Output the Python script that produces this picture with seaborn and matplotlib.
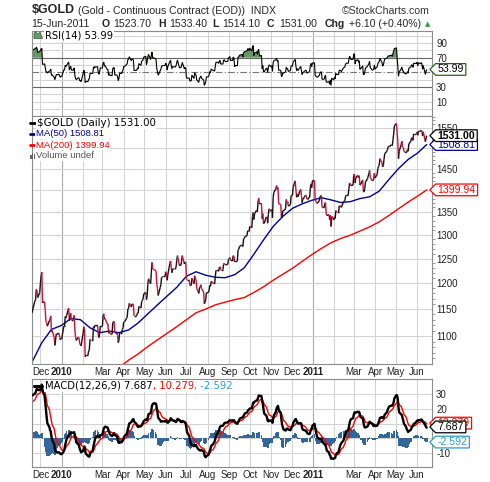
import numpy as np
import pandas as pd
import matplotlib
matplotlib.use('Agg')
import matplotlib.pyplot as plt
import matplotlib.dates as mdates
from matplotlib.collections import LineCollection
from matplotlib.lines import Line2D
from matplotlib.patches import Polygon, Rectangle
from matplotlib.path import Path
from matplotlib.ticker import FixedLocator, NullFormatter
from matplotlib.transforms import blended_transform_factory
import seaborn as sns

# daily closes, one row per month (weekdays, holidays repeat the prior close)
close = [
    1143, 1150, 1166, 1168, 1188, 1185, 1172, 1182,  # Nov 2009 (from the 19th)
    1200, 1215, 1222, 1162, 1164, 1147, 1126, 1125, 1118, 1128, 1130, 1137, 1108, 1110, 1097, 1083,
    1093, 1104, 1104, 1105, 1097, 1093, 1096,  # Dec
    1096, 1118, 1118, 1136, 1133, 1138, 1152, 1128, 1136, 1142, 1130, 1130, 1138, 1111, 1098, 1092,
    1098, 1097, 1086, 1085, 1082,  # Jan 2010
    1105, 1117, 1111, 1063, 1066, 1066, 1073, 1075, 1094, 1093, 1093, 1117, 1114, 1120, 1118, 1120,
    1102, 1097, 1106, 1118,  # Feb
    1118, 1137, 1141, 1131, 1132, 1122, 1122, 1105, 1109, 1104, 1103, 1124, 1126, 1127, 1106, 1106,
    1101, 1088, 1092, 1106, 1106, 1112, 1115,  # Mar
    1126, 1126, 1132, 1135, 1150, 1151, 1161, 1154, 1160, 1160, 1158, 1137, 1137, 1138, 1143, 1142,
    1155, 1152, 1164, 1167, 1169, 1179,  # Apr
    1182, 1168, 1176, 1198, 1209, 1199, 1220, 1242, 1228, 1228, 1226, 1223, 1198, 1189, 1176, 1192,
    1198, 1212, 1212, 1214, 1214,  # May
    1223, 1220, 1206, 1217, 1240, 1245, 1231, 1221, 1229, 1228, 1228, 1233, 1246, 1256, 1235, 1237,
    1236, 1244, 1256, 1239, 1243, 1242,  # Jun
    1209, 1207, 1207, 1196, 1195, 1196, 1210, 1199, 1215, 1210, 1207, 1190, 1180, 1191, 1193, 1197,
    1189, 1183, 1160, 1163, 1168, 1181,  # Jul
    1182, 1187, 1196, 1194, 1204, 1200, 1200, 1199, 1214, 1226, 1226, 1224, 1233, 1233, 1227, 1227,
    1238, 1240, 1238, 1237, 1238, 1248,  # Aug
    1249, 1252, 1247, 1247, 1256, 1255, 1243, 1245, 1245, 1268, 1269, 1275, 1276, 1278, 1275, 1291,
    1292, 1296, 1298, 1309, 1309, 1307,  # Sep
    1318, 1315, 1340, 1349, 1333, 1346, 1354, 1350, 1372, 1381, 1368, 1369, 1335, 1346, 1324, 1325,
    1339, 1339, 1325, 1344, 1357,  # Oct
    1351, 1356, 1337, 1383, 1394, 1403, 1410, 1401, 1405, 1368, 1367, 1337, 1338, 1353, 1352, 1357,
    1378, 1373, 1373, 1363, 1366, 1386,  # Nov
    1388, 1387, 1406, 1421, 1400, 1383, 1390, 1384, 1398, 1401, 1387, 1371, 1378, 1385, 1388, 1387,
    1379, 1379, 1383, 1405, 1414, 1405, 1421,  # Dec
    1422, 1378, 1374, 1371, 1369, 1375, 1383, 1386, 1387, 1360, 1360, 1368, 1371, 1345, 1342, 1344,
    1333, 1343, 1318, 1340, 1332,  # Jan 2011
    1339, 1335, 1353, 1349, 1349, 1364, 1364, 1363, 1360, 1372, 1374, 1375, 1384, 1388, 1388, 1403,
    1416, 1414, 1410, 1411,  # Feb
    1434, 1437, 1416, 1428, 1434, 1428, 1433, 1411, 1413, 1423, 1396, 1395, 1403, 1418, 1426, 1432,
    1437, 1446, 1429, 1421, 1422, 1424, 1439,  # Mar
    1428, 1436, 1450, 1455, 1458, 1474, 1464, 1454, 1458, 1473, 1486, 1492, 1496, 1503, 1505, 1505,
    1508, 1506, 1521, 1535, 1556,  # Apr
    1562, 1541, 1516, 1474, 1492, 1509, 1517, 1502, 1501, 1492, 1488, 1490, 1496, 1492, 1510, 1517,
    1526, 1525, 1519, 1536, 1536, 1536,  # May
    1540, 1532, 1543, 1541, 1545, 1542, 1530, 1541, 1516, 1525, 1531,  # Jun (to the 15th)
]

# moving averages read every 10th session (last point = value in the legend)
ma50 = [1054, 1088, 1112, 1119, 1132, 1130, 1115, 1106, 1109, 1106, 1111, 1124, 1141, 1158,
        1175, 1192, 1214, 1223, 1216, 1212, 1211, 1217, 1231, 1259, 1289, 1318, 1340, 1358,
        1368, 1376, 1382, 1377, 1371, 1373, 1380, 1384, 1397, 1424, 1450, 1472, 1488, 1508.81]
ma200 = [1044, 1057, 1068, 1081, 1093, 1105, 1117, 1130, 1143, 1150, 1158, 1163, 1168, 1172,
         1182, 1193, 1206, 1218, 1230, 1244, 1258, 1271, 1283, 1292, 1299, 1308, 1317, 1328,
         1342, 1357, 1372, 1386, 1399.94]
ma200_first = 90  # session where the 200-day line enters the window

# first readings at the left edge, used to start the indicator recursions
rsi_start = 80.0
macd_start = 29.0
signal_start = 24.0

month_labels = ['Dec', '2010', '', 'Mar', 'Apr', 'May', 'Jun', 'Jul', 'Aug', 'Sep', 'Oct',
                'Nov', 'Dec', '2011', '', 'Mar', 'Apr', 'May', 'Jun']
price_grid = [1100, 1150, 1200, 1250, 1300, 1350, 1400, 1450, 1500, 1550]
price_ticks = [1100, 1150, 1200, 1250, 1300, 1350, 1450, 1550]   # 1400/1500 sit under the tags
rsi_ticks = [90, 70, 30, 10]
macd_grid = [30, 20, 10, 0, -10]
macd_ticks = [30, 20, -10]

# ---------------------------------------------------------------- derived
n = len(close)
px = np.array(close, dtype=float)
dates = pd.bdate_range(end='2011-06-15', periods=n)
ma50_idx = list(range(0, n - 1, 10)) + [n - 1]
ma200_idx = list(range(ma200_first, n - 1, 10)) + [n - 1]

# RSI(14), Wilder smoothing
rsi = np.empty(n)
al = 3.0
ag = al * rsi_start / (100 - rsi_start)
rsi[0] = rsi_start
for i in range(1, n):
    d = px[i] - px[i - 1]
    ag = (ag * 13 + max(d, 0)) / 14
    al = (al * 13 + max(-d, 0)) / 14
    rsi[i] = 100 * ag / (ag + al)

# MACD(12,26,9)
a12, a26, a9 = 2 / 13, 2 / 27, 2 / 10
trend = macd_start / 7.0
e12 = px[0] - trend * (1 - a12) / a12
e26 = px[0] - trend * (1 - a26) / a26
sig = signal_start
macd = np.empty(n)
signal = np.empty(n)
for i in range(n):
    if i > 0:
        e12 += a12 * (px[i] - e12)
        e26 += a26 * (px[i] - e26)
    macd[i] = e12 - e26
    if i > 0:
        sig += a9 * (macd[i] - sig)
    signal[i] = sig
hist = macd - signal

# ---------------------------------------------------------------- figure
sns.set_style('white')
plt.rcParams['font.family'] = ['Liberation Sans', 'DejaVu Sans']
W, H = 490, 482
fig = plt.figure(figsize=(W / 100, H / 100), dpi=100)


def fx(x):
    return x / W


def fy(y):
    return 1 - y / H


def box(x0, y0, x1, y1):
    return [fx(x0), fy(y1), (x1 - x0) / W, (y1 - y0) / H]


ax_rsi = fig.add_axes(box(32, 31, 432, 116))
ax_px = fig.add_axes(box(32, 116, 432, 364))
ax_macd = fig.add_axes(box(32, 379, 432, 467))

month_starts = pd.date_range('2009-12-01', '2011-06-01', freq='MS')
x_lo, x_hi = pd.Timestamp('2009-11-18 18:00'), pd.Timestamp('2011-06-22 16:00')
GRID = '#d3d3d3'


def grid(ax, ylines):
    for m in month_starts:
        ax.axvline(m, color='#a8a8a8' if m.month == 1 else GRID, lw=0.75, zorder=0)
    for v in ylines:
        ax.axhline(v, color=GRID, lw=0.75, zorder=0)


def style(ax, yticks, xlabels):
    for sp in ax.spines.values():
        sp.set_color('#8c8c8c')
        sp.set_linewidth(0.8)
    ax.set_xlim(x_lo, x_hi)
    ax.yaxis.tick_right()
    ax.set_yticks(yticks)
    ax.set_yticklabels([str(t) for t in yticks])
    ax.yaxis.set_minor_formatter(NullFormatter())
    ax.tick_params(axis='y', which='major', length=0, pad=3, labelsize=7, labelcolor='#222222')
    ax.set_xticks(month_starts)
    if xlabels:
        ax.set_xticklabels(month_labels)
        for lab in ax.get_xticklabels():
            if lab.get_text().startswith('20'):
                lab.set_fontweight('bold')
                lab.set_fontsize(7.6)
    else:
        ax.set_xticklabels([])
    ax.tick_params(axis='x', length=0, pad=2.5, labelsize=7, labelcolor='#222222')
    ax.set_xlabel('')
    ax.set_ylabel('')


def tag_shape(x0, y0, width, height, mutation_scale):
    pad = 0.18 * mutation_scale
    x0, x1 = x0 - pad, x0 + width + pad
    y0, y1 = y0 - 0.08 * mutation_scale, y0 + height + 0.08 * mutation_scale
    tip = (y1 - y0) / 2
    verts = [(x0 - tip, (y0 + y1) / 2), (x0, y0), (x1, y0), (x1, y1), (x0, y1), (x0 - tip, (y0 + y1) / 2)]
    return Path(verts, [Path.MOVETO] + [Path.LINETO] * 4 + [Path.CLOSEPOLY])


def tag(ax, value, text, color, edge, bold=False):
    tr = blended_transform_factory(ax.transAxes, ax.transData)
    ax.annotate(text, xy=(1, value), xycoords=tr, xytext=(4.0, 0), textcoords='offset points',
                ha='left', va='center', fontsize=7.6, color=color,
                fontweight='bold' if bold else 'normal', annotation_clip=False, zorder=6,
                bbox=dict(boxstyle=tag_shape, fc='white', ec=edge, lw=0.9))


# ---- RSI panel
grid(ax_rsi, [0, 10, 20, 40, 60, 80, 90, 100])
ax_rsi.fill_between(dates, 70, rsi, where=rsi > 70, interpolate=True, color='#669966', lw=0, zorder=1)
ax_rsi.axhline(70, color='#666666', lw=0.8, zorder=1)
ax_rsi.axhline(30, color='#666666', lw=0.8, zorder=1)
ax_rsi.axhline(50, color='#777777', lw=0.8, ls=(0, (6, 2, 1, 2)), zorder=1)
sns.lineplot(x=dates, y=rsi, ax=ax_rsi, color='black', lw=0.8, zorder=2)
ax_rsi.set_ylim(-9.5, 106.4)
style(ax_rsi, rsi_ticks, False)
tag(ax_rsi, 53.99, '53.99', 'black', '#1e6b1e')

# ---- price panel
ax_px.set_yscale('log')
grid(ax_px, price_grid)
sns.lineplot(x=dates[ma200_idx], y=ma200, ax=ax_px, color='#ff0000', lw=1.0, zorder=2)
sns.lineplot(x=dates[ma50_idx], y=ma50, ax=ax_px, color='#000099', lw=1.0, zorder=2)
xs = mdates.date2num(dates)
pts = np.column_stack([xs, px])
segs = np.stack([pts[:-1], pts[1:]], axis=1)
seg_cols = np.where(np.diff(px) < 0, '#c8103c', '#111111')
ax_px.add_collection(LineCollection(segs, colors=seg_cols, linewidths=1.0, zorder=3))
ax_px.set_ylim(1050.3, 1581.5)
style(ax_px, price_ticks, True)
ax_px.yaxis.set_minor_locator(FixedLocator([v for v in range(1060, 1581, 10) if v % 50]))
ax_px.tick_params(axis='y', which='minor', length=2, color='#8c8c8c', width=0.6)
tag(ax_px, 1399.94, '1399.94', '#ff0000', '#ff0000')
tag(ax_px, 1508.81, '1508.81', '#000099', '#000099')
tag(ax_px, 1531.00, '1531.00', 'black', 'black', bold=True)

# ---- MACD panel
grid(ax_macd, macd_grid)
ax_macd.bar(dates, hist, width=2.6, color='#336699', lw=0, zorder=1)
sns.lineplot(x=dates, y=signal, ax=ax_macd, color='#ff0000', lw=1.0, zorder=2)
sns.lineplot(x=dates, y=macd, ax=ax_macd, color='black', lw=1.7, zorder=3)
ax_macd.set_ylim(-19.5, 40.2)
style(ax_macd, macd_ticks, True)
tag(ax_macd, 10.279, '10.279', '#ff0000', '#ff0000')
tag(ax_macd, 7.687, '7.687', 'black', 'black')
tag(ax_macd, -2.592, '-2.592', '#3399cc', '#3399cc')

# ---------------------------------------------------------------- texts
renderer = fig.canvas.get_renderer()


def run(x, y, pieces, size, family=None, bg=None):
    for txt, color, weight in pieces:
        kw = dict(fontsize=size, color=color, fontweight=weight, va='center', ha='left')
        if family:
            kw['family'] = family
        t = fig.text(fx(x), fy(y), txt, **kw)
        if bg:
            t.set_bbox(dict(fc=bg, ec='none', pad=0.6))
        x += t.get_window_extent(renderer).width


fig.text(fx(32), fy(10), '$GOLD', fontsize=9, fontweight='bold', va='center')
fig.text(fx(78), fy(10.5), '(Gold - Continuous Contract (EOD))  INDX', fontsize=7.6, va='center')
fig.text(fx(430), fy(10.5), '\u00a9StockCharts.com', fontsize=7.6, va='center', ha='right', color='#333333')

hdr = [(31.7, '15-Jun-2011', 'normal'), (101.7, 'O', 'bold'), (113, '1523.70', 'normal'),
       (158.3, 'H', 'bold'), (169.3, '1533.40', 'normal'), (212.3, 'L', 'bold'),
       (222.7, '1514.10', 'normal'), (266.7, 'C', 'bold'), (279.3, '1531.00', 'normal'),
       (325, 'Chg', 'bold'), (349, '+6.10 (+0.40%)', 'normal')]
for x, txt, w in hdr:
    fig.text(fx(x), fy(24), txt, fontsize=7.6, fontweight=w, va='center')
fig.text(fx(424.5), fy(24.5), '\u25b2', fontsize=5, color='#339933', va='center',
         family=['DejaVu Sans'])

# RSI legend
fig.add_artist(Polygon([(fx(34), fy(38.5)), (fx(34), fy(33)), (fx(36), fy(31.5)), (fx(38), fy(34.5)),
                        (fx(40), fy(32)), (fx(42.5), fy(38.5))], closed=True,
                       transform=fig.transFigure, fc='#669966', ec='#2f5f2f', lw=0.5))
run(45, 36, [('RSI(14) 53.99', 'black', 'normal')], 7.2, family=['DejaVu Sans'], bg='white')

# price legend
for y, col in [(122.7, 'black'), (134, '#000099'), (145, '#ff0000')]:
    fig.add_artist(Line2D([fx(30), fx(35)], [fy(y), fy(y)], color=col, lw=2,
                          transform=fig.transFigure))
run(36.5, 122.7, [('$GOLD (Daily) 1531.00', 'black', 'normal')], 7.4, family=['DejaVu Sans'], bg='white')
run(35.5, 134, [('MA(50) 1508.81', '#000099', 'normal')], 6.8, bg='white')
run(35.5, 145, [('MA(200) 1399.94', '#ff0000', 'normal')], 6.8, bg='white')
for bx, bh in [(30.2, 4), (32.0, 6), (33.8, 5)]:
    fig.add_artist(Rectangle((fx(bx), fy(159)), 1.3 / W, bh / H, transform=fig.transFigure,
                             fc='#666666', ec='none'))
run(35.5, 156, [('Volume undef', '#555555', 'normal')], 6.8, bg='white')

# MACD legend
fig.add_artist(Line2D([fx(34), fx(42)], [fy(386), fy(386)], color='black', lw=2.2,
                      transform=fig.transFigure))
run(45, 386, [('MACD(12,26,9) 7.687', 'black', 'normal'), (', 10.279', '#ff0000', 'normal'),
              (', -2.592', '#3399cc', 'normal')], 7.2, family=['DejaVu Sans'], bg='white')

fig.savefig('out.png', dpi=100)
